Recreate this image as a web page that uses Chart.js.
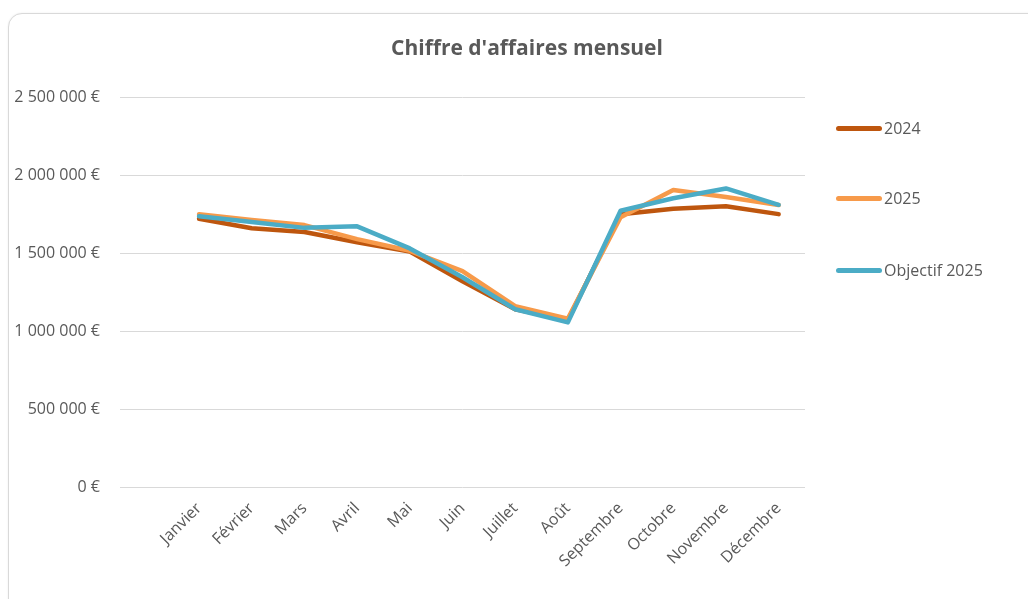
<!DOCTYPE html>
<html lang="fr">
<head>
<meta charset="utf-8">
<title>Chiffre d'affaires mensuel</title>
<script src="https://cdn.jsdelivr.net/npm/chart.js@4/dist/chart.umd.min.js"></script>
<style>
  html, body { margin: 0; padding: 0; background: #ffffff; overflow: hidden; }
  #wrap { position: relative; width: 1028px; height: 599px; overflow: hidden; }
  #card { position: absolute; left: 8px; top: 13px; width: 1100px; height: 700px;
          border: 1px solid #d9d9d9; border-radius: 14px; box-shadow: 0 0 2px rgba(0,0,0,0.08); background: #fff; }
  #c { position: absolute; left: 0; top: 0; }
  #legend { position: absolute; left: 836px; top: 0; font-family: "Open Sans", sans-serif; font-size: 16px; color: #595959; }
  .item { position: absolute; left: 0; display: flex; align-items: center; white-space: nowrap; }
  .swatch { width: 46px; height: 5px; border-radius: 3px; margin-right: 2px; }
</style>
</head>
<body>
<div id="wrap">
  <div id="card"></div>
  <canvas id="c" width="1054" height="599"></canvas>
  <div id="legend"></div>
</div>
<script>
// ---- Data ----
const months = ["Janvier", "Février", "Mars", "Avril", "Mai", "Juin", "Juillet", "Août", "Septembre", "Octobre", "Novembre", "Décembre"];
const seriesNames = ["2024", "2025", "Objectif 2025"];
const values2024 = [1720000, 1660000, 1635000, 1570000, 1510000, 1320000, 1140000, 1070000, 1750000, 1785000, 1800000, 1750000];
const values2025 = [1750000, 1712000, 1680000, 1590000, 1515000, 1385000, 1160000, 1080000, 1730000, 1905000, 1860000, 1808000];
const valuesObjectif = [1737000, 1700000, 1662000, 1672000, 1530000, 1345000, 1140000, 1056000, 1772000, 1852000, 1915000, 1810000];
const yTicks = [0, 500000, 1000000, 1500000, 2000000, 2500000];

// ---- Styling ----
const colors = ["#BE560E", "#F79A4A", "#4BACC6"];
const textColor = "#595959";
const font = "'Open Sans', sans-serif";

// The reference has an empty leading category slot
const labels = [""].concat(months);
const pad = arr => [null].concat(arr);

const fmt = v => String(v).replace(/\B(?=(\d{3})+(?!\d))/g, " ") + " €";

const allSeries = [values2024, values2025, valuesObjectif];
const datasets = allSeries.map((vals, i) => ({
  label: seriesNames[i],
  data: pad(vals),
  borderColor: colors[i],
  backgroundColor: colors[i],
  borderWidth: 4.5,
  pointRadius: 0,
  pointHoverRadius: 0,
  tension: 0,
  borderJoinStyle: "round",
  borderCapStyle: "round",
  fill: false,
  order: 3 - i
}));

Chart.defaults.font.family = font;
Chart.defaults.color = textColor;

new Chart(document.getElementById("c"), {
  type: "line",
  data: { labels: labels, datasets: datasets },
  options: {
    responsive: false,
    animation: false,
    devicePixelRatio: 1,
    layout: { padding: { left: 0, right: 0, top: 0, bottom: 0 } },
    plugins: {
      legend: { display: false },
      tooltip: { enabled: false },
      title: {
        display: true,
        text: "Chiffre d'affaires mensuel",
        color: textColor,
        font: { family: font, size: 21, weight: "bold" },
        padding: { top: 36, bottom: 36 }
      }
    },
    scales: {
      x: {
        type: "category",
        offset: true,
        grid: { display: false, drawTicks: false },
        border: { display: false },
        ticks: {
          autoSkip: false,
          minRotation: 45,
          maxRotation: 45,
          padding: 12,
          color: textColor,
          font: { family: font, size: 16 }
        },
        afterFit: s => { s.height = 112; }
      },
      y: {
        type: "linear",
        position: "left",
        min: yTicks[0],
        max: yTicks[yTicks.length - 1],
        afterBuildTicks: s => { s.ticks = yTicks.map(v => ({ value: v })); },
        grid: { color: "#d9d9d9", lineWidth: 1, drawTicks: false },
        border: { display: false },
        ticks: {
          padding: 20,
          color: textColor,
          font: { family: font, size: 16 },
          callback: v => fmt(v)
        },
        afterFit: s => { s.width = 120; }
      },
      spacer: {
        type: "linear",
        position: "right",
        display: true,
        grid: { display: false, drawTicks: false },
        border: { display: false },
        ticks: { display: false },
        afterFit: s => { s.width = 249; }
      }
    }
  }
});

// HTML legend built from the series
const legendTops = [128, 198, 270];
const legend = document.getElementById("legend");
seriesNames.forEach((name, i) => {
  const item = document.createElement("div");
  item.className = "item";
  item.style.top = (legendTops[i] - 12) + "px";
  item.style.height = "24px";
  const sw = document.createElement("span");
  sw.className = "swatch";
  sw.style.background = colors[i];
  const tx = document.createElement("span");
  tx.textContent = name;
  item.appendChild(sw);
  item.appendChild(tx);
  legend.appendChild(item);
});
</script>
</body>
</html>
